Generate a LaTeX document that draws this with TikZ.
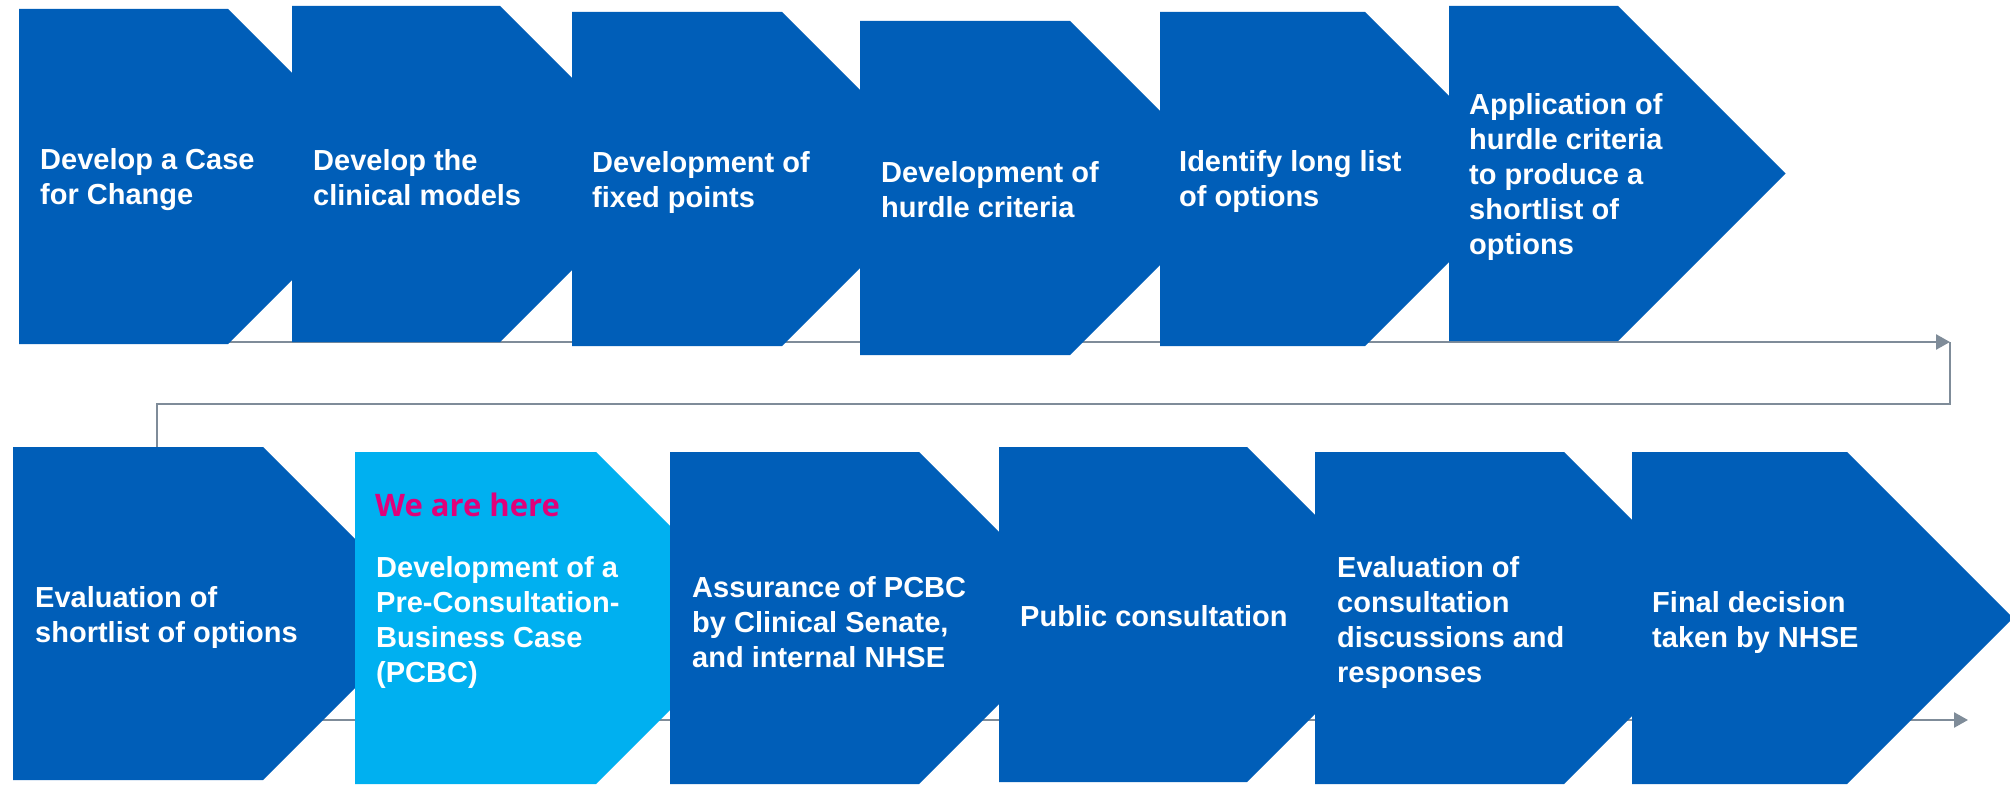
\documentclass[tikz,border=0pt]{standalone}
\usepackage{fontspec}
\setmainfont{Liberation Sans}
\newfontfamily\herefont{Open Sans}
\usetikzlibrary{arrows.meta}
\definecolor{nhsblue}{HTML}{005EB8}
\definecolor{lightblue}{HTML}{00B0F0}
\definecolor{herepink}{HTML}{E0007A}
\definecolor{linegray}{HTML}{7F8C99}
\newcommand{\chevshape}[5]{%
  \fill[#5] (#1,#2) -- (#4,#2) -- ({#4+(#3-#2)/2},{(#2+#3)/2}) -- (#4,#3) -- (#1,#3) -- cycle;}
\tikzset{
  lbl/.style={anchor=west, align=left, inner sep=0pt, text=white,
    font=\fontsize{29}{35}\selectfont\bfseries},
  flow/.style={draw=linegray, line width=2.5pt},
  flowarrow/.style={flow, -{Triangle[length=14pt,width=15pt]}}
}
\begin{document}
\begin{tikzpicture}[x=1pt,y=-1pt]
\useasboundingbox (0,0) rectangle (2010,786);
\fill[white] (0,0) rectangle (2010,786);
% connectors
\coordinate (t0) at (19,342);
\coordinate (t1) at (1950,342);
\coordinate (e1) at (157,447);
\coordinate (b0) at (13,720);
\coordinate (b1) at (1968,720);
\draw[flowarrow] (t0) -- (t1);
\draw[flow] (t1) -- (t1 |- 0,404) -| (e1);
\draw[flowarrow] (b0) -- (b1);
% top row
\chevshape{19}{9}{344}{228}{nhsblue}
\chevshape{292}{6}{342}{500}{nhsblue}
\chevshape{572}{12}{346}{782}{nhsblue}
\chevshape{860}{21}{355}{1070}{nhsblue}
\chevshape{1160}{12}{346}{1365}{nhsblue}
\chevshape{1449}{6}{341}{1618}{nhsblue}
\node[lbl] (s1) at (40,180) {Develop a Case\\for Change};
\node[lbl] (s2) at (313,178) {Develop the\\clinical models};
\node[lbl] (s3) at (592,183) {Development of\\fixed points};
\node[lbl] (s4) at (881,190) {Development of\\hurdle criteria};
\node[lbl] (s5) at (1179,182) {Identify long list\\of options};
\node[lbl] (s6) at (1469,177) {Application of\\hurdle criteria\\to produce a\\shortlist of\\options};
% bottom row
\chevshape{13}{447}{780}{263}{nhsblue}
\chevshape{355}{452}{784}{596}{lightblue}
\chevshape{670}{452}{784}{919}{nhsblue}
\chevshape{999}{447}{782}{1247}{nhsblue}
\chevshape{1315}{452}{784}{1564}{nhsblue}
\chevshape{1632}{452}{784}{1847}{nhsblue}
\node[lbl] (r1) at (35,617) {Evaluation of\\shortlist of options};
\node[anchor=west, inner sep=0pt, text=herepink, font=\herefont\fontsize{31}{37}\selectfont\bfseries] (here) at (375,505) {We are here};
\node[lbl] (r2) at (376,622) {Development of a\\Pre-Consultation-\\Business Case\\(PCBC)};
\node[lbl] (r3) at (692,622) {Assurance of PCBC\\by Clinical Senate,\\and internal NHSE};
\node[lbl] (r4) at (1020,616) {Public consultation};
\node[lbl] (r5) at (1337,622) {Evaluation of\\consultation\\discussions and\\responses};
\node[lbl] (r6) at (1652,622) {Final decision\\taken by NHSE};
\end{tikzpicture}
\end{document}
